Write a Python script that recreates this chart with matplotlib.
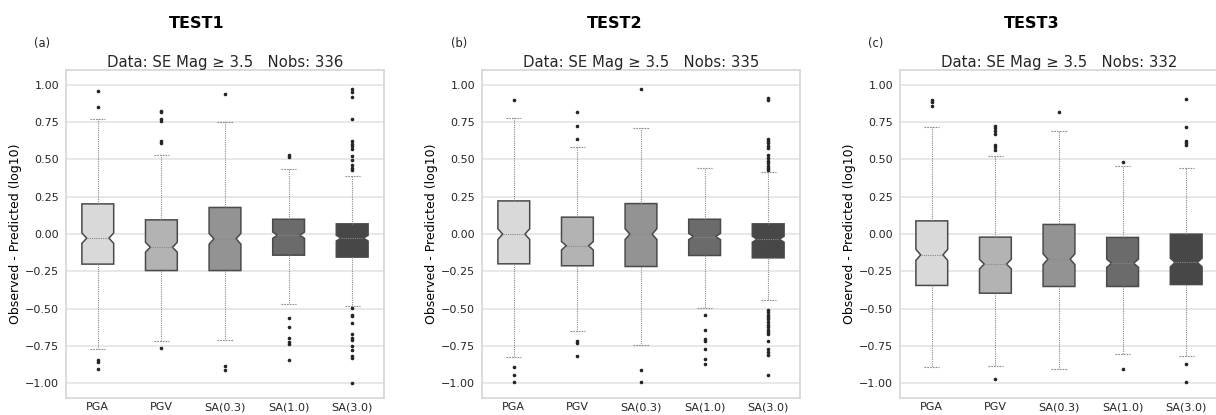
import matplotlib
matplotlib.use("Agg")
import matplotlib.pyplot as plt

# ---------------------------------------------------------------
# datos
# ---------------------------------------------------------------
categories = ["PGA", "PGV", "SA(0.3)", "SA(1.0)", "SA(3.0)"]
test_names = ["TEST1", "TEST2", "TEST3"]
panel_tags = ["(a)", "(b)", "(c)"]
n_obs = [336, 335, 332]

# una lista por test, cinco valores (uno por categoria)
q1 = [[-0.202, -0.245, -0.245, -0.142, -0.155],
      [-0.200, -0.213, -0.218, -0.144, -0.160],
      [-0.345, -0.397, -0.352, -0.352, -0.339]]
med = [[-0.028, -0.089, -0.032, -0.008, -0.028],
       [-0.001, -0.079, -0.001, -0.017, -0.035],
       [-0.140, -0.202, -0.169, -0.196, -0.191]]
q3 = [[0.202, 0.095, 0.178, 0.099, 0.068],
      [0.222, 0.113, 0.204, 0.099, 0.068],
      [0.088, -0.021, 0.064, -0.023, -0.001]]
whislo = [[-0.774, -0.718, -0.709, -0.470, -0.482],
          [-0.823, -0.649, -0.743, -0.497, -0.444],
          [-0.893, -0.888, -0.906, -0.806, -0.815]]
whishi = [[0.772, 0.531, 0.748, 0.437, 0.390],
          [0.777, 0.584, 0.712, 0.441, 0.414],
          [0.721, 0.526, 0.692, 0.453, 0.441]]
ci_hi = [[0.007, -0.055, 0.004, 0.013, -0.009],
         [0.035, -0.051, 0.035, 0.004, -0.015],
         [-0.103, -0.170, -0.133, -0.168, -0.162]]
ci_lo = [[-0.063, -0.122, -0.068, -0.029, -0.047],
         [-0.037, -0.107, -0.037, -0.038, -0.055],
         [-0.177, -0.234, -0.205, -0.224, -0.220]]

fliers = [
    [[0.962, 0.850, -0.844, -0.860, -0.906],
     [0.826, 0.815, 0.774, 0.761, 0.622, 0.609, -0.763],
     [0.942, -0.884, -0.915],
     [0.528, 0.515, -0.564, -0.625, -0.698, -0.727, -0.739, -0.844],
     [0.971, 0.955, 0.920, 0.774, 0.622, 0.602, 0.587, 0.571, 0.526,
      0.497, 0.464, 0.446, 0.430, -0.497, -0.542, -0.553, -0.600,
      -0.669, -0.698, -0.709, -0.754, -0.776, -0.817, -0.832, -1.000]],
    [[0.900, -0.893, -0.944, -0.991],
     [0.815, 0.727, 0.638, -0.716, -0.732, -0.821],
     [0.975, -0.915, -0.991],
     [-0.546, -0.647, -0.705, -0.721, -0.772, -0.839, -0.875],
     [0.915, 0.900, 0.638, 0.625, 0.609, 0.593, 0.575, 0.528, 0.508,
      0.490, 0.475, 0.459, 0.441, 0.426, -0.508, -0.524, -0.540, -0.557,
      -0.573, -0.591, -0.609, -0.627, -0.642, -0.660, -0.672, -0.721,
      -0.772, -0.792, -0.810, -0.944]],
    [[0.902, 0.888, 0.861],
     [0.725, 0.709, 0.689, 0.672, 0.600, 0.582, 0.564, -0.971],
     [0.815],
     [0.484, -0.904],
     [0.905, 0.721, 0.627, 0.613, 0.598, -0.873, -0.991]],
]

box_colors = ["#d9d9d9", "#b3b3b3", "#939393", "#6b6b6b", "#474747"]

plt.rcParams['font.family'] = 'DejaVu Sans'
plt.rcParams['axes.edgecolor'] = '#d6d6d6'
plt.rcParams['text.color'] = '#262626'

fig = plt.figure(figsize=(12.16, 4.15), dpi=100)

ancho = 318 / 1216
alto = 328 / 415
izq = [66 / 1216, 482 / 1216, 900 / 1216]
titulo_x = [197 / 1216, 615 / 1216, 1032 / 1216]
tag_x = [42 / 1216, 459 / 1216, 876 / 1216]

w = 0.5
for i in range(3):
    ax = fig.add_axes([izq[i], 17 / 415, ancho, alto])

    stats = []
    for j in range(len(categories)):
        stats.append(dict(med=med[i][j], q1=q1[i][j], q3=q3[i][j],
                          whislo=whislo[i][j], whishi=whishi[i][j],
                          cilo=ci_lo[i][j], cihi=ci_hi[i][j],
                          fliers=fliers[i][j]))

    bp = ax.bxp(stats, positions=range(len(categories)), widths=w,
                shownotches=True, patch_artist=True,
                boxprops=dict(edgecolor='#4a4a4a', linewidth=1.1),
                whiskerprops=dict(color='#8a8a8a', linewidth=0.8,
                                  linestyle=(0, (1, 1))),
                capprops=dict(color='#8a8a8a', linewidth=0.8,
                              linestyle=(0, (1.5, 1))),
                medianprops=dict(color='#8a8a8a', linewidth=0.8,
                                 linestyle=(0, (1, 1))),
                flierprops=dict(marker='o', markersize=1.6,
                                markerfacecolor='#262626',
                                markeredgecolor='#262626'))

    # colores y forma de la muesca
    for j, caja in enumerate(bp['boxes']):
        caja.set_facecolor(box_colors[j])
        verts = caja.get_path().vertices
        verts[3, 0] = j + 0.35 * w
        verts[8, 0] = j - 0.35 * w
        bp['medians'][j].set_xdata([j - 0.35 * w, j + 0.35 * w])
    for j in range(len(categories)):
        for c in bp['caps'][2 * j:2 * j + 2]:
            c.set_xdata([j - 0.12, j + 0.12])

    ax.set_xlim(-0.5, 4.5)
    ax.set_ylim(-1.1, 1.1)
    ax.set_yticks([-1.0, -0.75, -0.5, -0.25, 0.0, 0.25, 0.5, 0.75, 1.0])
    ax.set_xticks(range(len(categories)))
    ax.set_xticklabels(categories)
    ax.yaxis.grid(True, color='#e6e6e6', linewidth=1.3)
    ax.xaxis.grid(False)
    ax.set_axisbelow(True)
    ax.tick_params(axis='both', length=0, labelsize=8,
                   labelcolor='#262626')
    ax.tick_params(axis='y', pad=5)
    ax.tick_params(axis='x', pad=3)
    for s in ax.spines.values():
        s.set_linewidth(1.2)
    ax.set_ylabel('Observed - Predicted (log10)', fontsize=9, labelpad=2)
    ax.set_title(f'Data: SE Mag \u2265 3.5   Nobs: {n_obs[i]}',
                 fontsize=10.7, pad=2)

    fig.text(titulo_x[i], 392 / 415, test_names[i], ha='center',
             va='center', fontsize=11.5, weight='bold', color='black')
    fig.text(tag_x[i], 372 / 415, panel_tags[i], ha='center',
             va='center', fontsize=8.3)

fig.savefig('out.png', dpi=100)
